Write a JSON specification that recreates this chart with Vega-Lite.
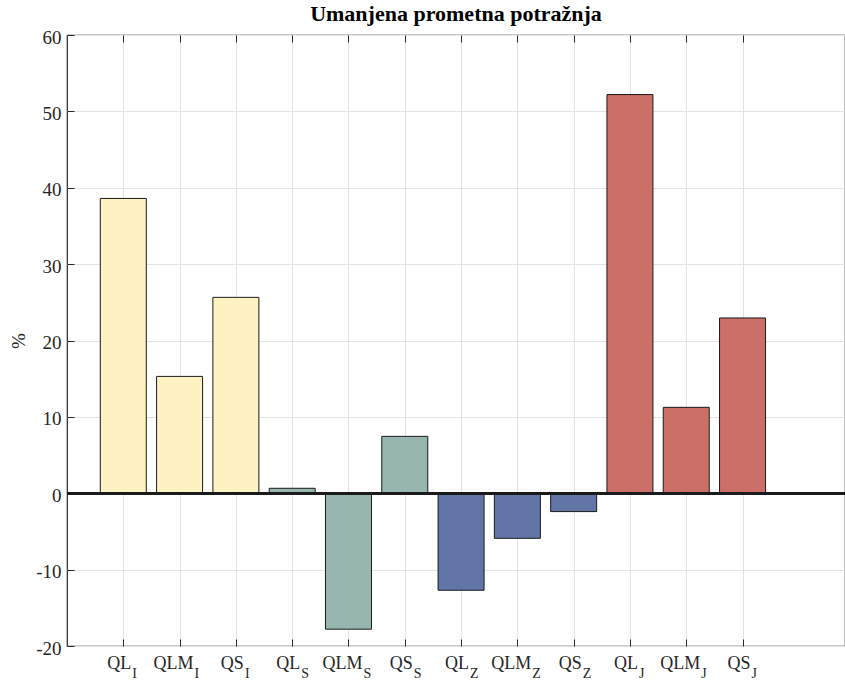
{
  "$schema": "https://vega.github.io/schema/vega-lite/v6.json",
  "autosize": "none",
  "width": 778,
  "height": 611,
  "padding": {"left": 67, "top": 35, "right": 0, "bottom": 35},
  "background": "white",
  "title": {"text": "Umanjena prometna potražnja", "font": "Liberation Serif", "fontSize": 22, "fontWeight": "bold", "color": "#000000", "anchor": "middle", "offset": 2},
  "config": {
    "view": {"stroke": "#262626", "strokeWidth": 1.2},
    "axis": {"domain": false, "gridColor": "#e3e3e3", "gridWidth": 1, "tickColor": "#262626", "labelFont": "Liberation Serif", "labelFontSize": 19, "labelColor": "#262626", "titleFont": "Liberation Serif", "titleFontSize": 19, "titleFontWeight": "normal", "titleColor": "#262626"}
  },
  "data": {"values": [
    {"pos": 1, "main": "QL", "sub": "I", "group": "I", "value": 38.6},
    {"pos": 2, "main": "QLM", "sub": "I", "group": "I", "value": 15.3},
    {"pos": 3, "main": "QS", "sub": "I", "group": "I", "value": 25.65},
    {"pos": 4, "main": "QL", "sub": "S", "group": "S", "value": 0.65},
    {"pos": 5, "main": "QLM", "sub": "S", "group": "S", "value": -17.8},
    {"pos": 6, "main": "QS", "sub": "S", "group": "S", "value": 7.45},
    {"pos": 7, "main": "QL", "sub": "Z", "group": "Z", "value": -12.7},
    {"pos": 8, "main": "QLM", "sub": "Z", "group": "Z", "value": -5.9},
    {"pos": 9, "main": "QS", "sub": "Z", "group": "Z", "value": -2.4},
    {"pos": 10, "main": "QL", "sub": "J", "group": "J", "value": 52.2},
    {"pos": 11, "main": "QLM", "sub": "J", "group": "J", "value": 11.25},
    {"pos": 12, "main": "QS", "sub": "J", "group": "J", "value": 22.95}
  ]},
  "resolve": {"axis": {"x": "independent"}},
  "layer": [
    {
      "mark": {"type": "bar", "width": 46, "stroke": "#1a1a1a", "strokeWidth": 1},
      "encoding": {
        "x": {"field": "pos", "type": "quantitative", "scale": {"domain": [0, 13.82], "nice": false, "zero": false, "padding": 0},
              "axis": {"orient": "bottom", "values": [1,2,3,4,5,6,7,8,9,10,11,12], "labels": false, "title": null, "grid": true, "tickSize": -7}},
        "y": {"field": "value", "type": "quantitative", "scale": {"domain": [-20, 60], "nice": false, "padding": 0},
              "axis": {"values": [-20,-10,0,10,20,30,40,50,60], "labelExpr": "datum.value < 0 ? '-' + abs(datum.value) : '' + datum.value", "tickSize": -7, "labelPadding": 13, "labelOffset": 2, "title": "%", "titlePadding": 7, "grid": true}},
        "color": {"field": "group", "type": "nominal", "legend": null,
                  "scale": {"domain": ["I","S","Z","J"], "range": ["#fff2c2", "#96b6af", "#6175a6", "#cb6f68"]}}
      }
    },
    {
      "mark": {"type": "rule", "color": "#1a1a1a", "strokeWidth": 2},
      "encoding": {"y": {"datum": 0}}
    },
    {
      "mark": {"type": "tick", "opacity": 0},
      "encoding": {
        "x": {"field": "pos", "type": "quantitative",
              "axis": {"orient": "top", "values": [1,2,3,4,5,6,7,8,9,10,11,12], "labels": false, "title": null, "grid": false, "tickSize": -7}}
      }
    },
    {
      "transform": [{"filter": "datum.main != 'QLM'"}],
      "mark": {"type": "text", "align": "right", "baseline": "alphabetic", "dx": 8, "dy": 23, "font": "Liberation Serif", "fontSize": 18, "color": "#262626"},
      "encoding": {"x": {"field": "pos", "type": "quantitative", "axis": null}, "y": {"datum": -20}, "text": {"field": "main"}}
    },
    {
      "transform": [{"filter": "datum.main != 'QLM'"}],
      "mark": {"type": "text", "align": "left", "baseline": "alphabetic", "dx": 9, "dy": 32, "font": "Liberation Serif", "fontSize": 14, "color": "#262626"},
      "encoding": {"x": {"field": "pos", "type": "quantitative", "axis": null}, "y": {"datum": -20}, "text": {"field": "sub"}}
    },
    {
      "transform": [{"filter": "datum.main == 'QLM'"}],
      "mark": {"type": "text", "align": "right", "baseline": "alphabetic", "dx": 14, "dy": 23, "font": "Liberation Serif", "fontSize": 18, "color": "#262626"},
      "encoding": {"x": {"field": "pos", "type": "quantitative", "axis": null}, "y": {"datum": -20}, "text": {"field": "main"}}
    },
    {
      "transform": [{"filter": "datum.main == 'QLM'"}],
      "mark": {"type": "text", "align": "left", "baseline": "alphabetic", "dx": 15, "dy": 32, "font": "Liberation Serif", "fontSize": 14, "color": "#262626"},
      "encoding": {"x": {"field": "pos", "type": "quantitative", "axis": null}, "y": {"datum": -20}, "text": {"field": "sub"}}
    }
  ]
}
